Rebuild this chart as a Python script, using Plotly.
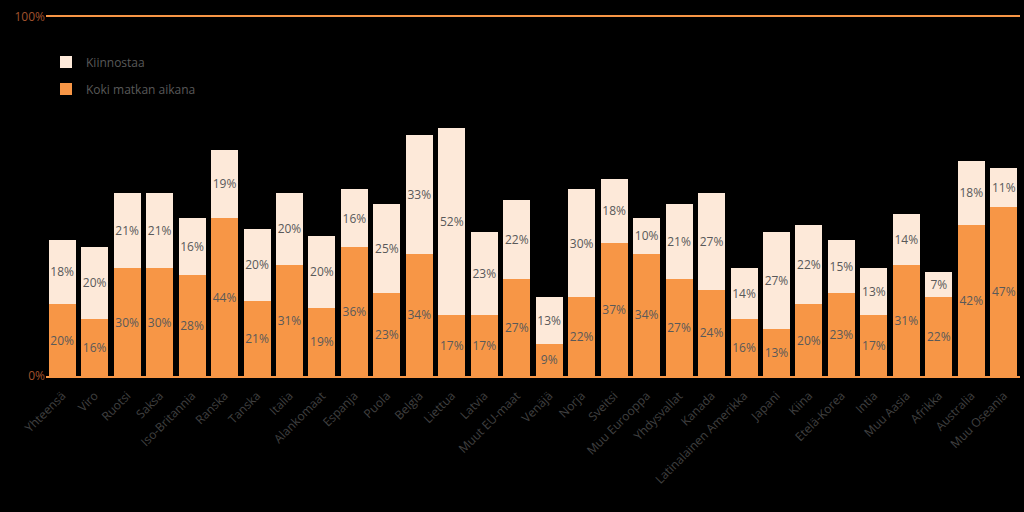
import plotly.graph_objects as go

categories = ['Yhteensä', 'Viro', 'Ruotsi', 'Saksa', 'Iso-Britannia', 'Ranska', 'Tanska',
              'Italia', 'Alankomaat', 'Espanja', 'Puola', 'Belgia', 'Liettua', 'Latvia',
              'Muut EU-maat', 'Venäjä', 'Norja', 'Sveitsi', 'Muu Eurooppa', 'Yhdysvallat',
              'Kanada', 'Latinalainen Amerikka', 'Japani', 'Kiina', 'Etelä-Korea', 'Intia',
              'Muu Aasia', 'Afrikka', 'Australia', 'Muu Oseania']
koki = [20, 16, 30, 30, 28, 44, 21, 31, 19, 36, 23, 34, 17, 17, 27,
        9, 22, 37, 34, 27, 24, 16, 13, 20, 23, 17, 31, 22, 42, 47]
kiinnostaa = [18, 20, 21, 21, 16, 19, 20, 20, 20, 16, 25, 33, 52, 23, 22,
              13, 30, 18, 10, 21, 27, 14, 27, 22, 15, 13, 14, 7, 18, 11]

orange = '#F79646'
cream = '#FDE9D9'
label_col = '#595959'

fig = go.Figure()
fig.add_trace(go.Bar(
    x=categories, y=koki, name='Koki matkan aikana',
    marker=dict(color=orange, line=dict(width=0)),
    text=[f'{v}%' for v in koki], textposition='inside', insidetextanchor='middle',
    textangle=0, textfont=dict(color=label_col, size=12),
    legendgroup='a', legendrank=2))
fig.add_trace(go.Bar(
    x=categories, y=kiinnostaa, name='Kiinnostaa',
    marker=dict(color=cream, line=dict(width=0)),
    text=[f'{v}%' for v in kiinnostaa], textposition='inside', insidetextanchor='middle',
    textangle=0, textfont=dict(color=label_col, size=12),
    legendgroup='b', legendrank=1))

fig.update_layout(
    barmode='stack',
    bargap=0.17,
    width=1024, height=512,
    paper_bgcolor='black', plot_bgcolor='black',
    font=dict(family='Open Sans, sans-serif', size=12, color=label_col),
    margin=dict(l=46, r=4, t=17, b=136),
    uniformtext=dict(minsize=12, mode='show'),
    legend=dict(x=0.0, y=0.915, xanchor='left', yanchor='top',
                traceorder='grouped', tracegroupgap=8, itemwidth=30,
                font=dict(size=12, color=label_col), bgcolor='rgba(0,0,0,0)'),
    xaxis=dict(tickangle=-45, tickfont=dict(size=12, color='#404040'),
               ticklabelstandoff=6,
               showline=True, mirror=True, linecolor=orange, linewidth=2, ticks=''),
    yaxis=dict(range=[0, 100], tickvals=[0, 100], ticktext=['0%', '100%'],
               tickfont=dict(size=12, color='#A0522D'),
               showgrid=False, zeroline=False, showline=False),
)

fig.write_html("out.html", config={'displayModeBar': False},
               post_script="document.body.style.margin='0';document.body.style.background='black';")
